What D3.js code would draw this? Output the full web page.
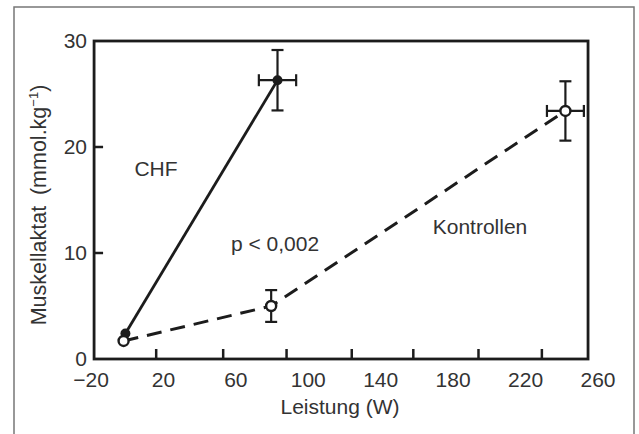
<!DOCTYPE html>
<html>
<head>
<meta charset="utf-8">
<script src="https://cdn.jsdelivr.net/npm/d3@7"></script>
<style>
  body { margin: 0; background: #fff; }
  text { font-family: "Liberation Sans", Arial, sans-serif; fill: #333; }
</style>
</head>
<body>
<div class="chart"></div>
<script>
// values
let xLabels = [-20, 20, 60, 100, 140, 180, 220, 260];
let xTickMarks = [16, 53, 88, 124, 158, 194, 229];   // the marks on the axis don't line up with the labels
let yLabels = [0, 10, 20, 30];
let yTickMarks = [10, 20];

let chf = [
    {x: -1, y: 2.4, ex: 0, ey: 0},
    {x: 83, y: 26.3, ex: 10.3, ey: 2.85}
];
let kontrollen = [
    {x: -2, y: 1.7, ex: 0, ey: 0},
    {x: 79.5, y: 5.0, ex: 0, ey: 1.5},
    {x: 242, y: 23.4, ex: 10.2, ey: 2.8}
];

let width = 639, height = 434;
let svg = d3.select('.chart').append('svg').attr('width', width).attr('height', height);

// outer gray frame
svg.append('rect').attr('x', 14).attr('y', 7).attr('width', 620).attr('height', 440)
    .attr('fill', 'none').attr('stroke', '#777').attr('stroke-width', 1.5);

let x = d3.scaleLinear().domain([-20, 260]).range([91, 598]);
let y = d3.scaleLinear().domain([0, 30]).range([359, 41]);

let ink = '#1c1c1c';
let fs = '21px';

// plot box
svg.append('rect')
    .attr('x', x(-18.3)).attr('y', y(30))
    .attr('width', x(254.5) - x(-18.3)).attr('height', y(0) - y(30))
    .attr('fill', 'none').attr('stroke', ink).attr('stroke-width', 2.8);

// tick marks
svg.selectAll('.xtick').data(xTickMarks).enter().append('line')
    .attr('x1', d => x(d)).attr('x2', d => x(d))
    .attr('y1', y(0)).attr('y2', y(0) - 10)
    .attr('stroke', ink).attr('stroke-width', 2.5);

svg.selectAll('.ytick').data(yTickMarks).enter().append('line')
    .attr('x1', x(-18.3)).attr('x2', x(-18.3) + 9)
    .attr('y1', d => y(d)).attr('y2', d => y(d))
    .attr('stroke', ink).attr('stroke-width', 2.5);

svg.selectAll('.xlab').data(xLabels).enter().append('text')
    .attr('x', d => x(d)).attr('y', 387)
    .attr('text-anchor', 'middle').style('font-size', fs)
    .text(d => d < 0 ? '\u2212' + Math.abs(d) : d);

svg.selectAll('.ylab').data(yLabels).enter().append('text')
    .attr('x', 87).attr('y', d => y(d) + 7)
    .attr('text-anchor', 'end').style('font-size', fs)
    .text(d => d);

// axis titles
svg.append('text').attr('x', 340).attr('y', 414).attr('text-anchor', 'middle')
    .style('font-size', fs).text('Leistung (W)');

let ytitle = svg.append('text').attr('transform', 'translate(46,205) rotate(-90)')
    .attr('text-anchor', 'middle').style('font-size', '21.5px');
ytitle.append('tspan').text('Muskellaktat\u2002(mmol.kg');
ytitle.append('tspan').attr('dy', -8).style('font-size', '13px').text('\u22121');
ytitle.append('tspan').attr('dy', 8).text(')');

// lines
let line = d3.line().x(d => x(d.x)).y(d => y(d.y));

svg.append('path').datum(kontrollen).attr('d', line)
    .attr('fill', 'none').attr('stroke', ink).attr('stroke-width', 3)
    .attr('stroke-dasharray', '15,9');
svg.append('path').datum(chf).attr('d', line)
    .attr('fill', 'none').attr('stroke', ink).attr('stroke-width', 2.8);

// error bars
function errorBars(data) {
    let cap = 6;
    data.forEach(d => {
        if (d.ey > 0) {
            svg.append('line').attr('x1', x(d.x)).attr('x2', x(d.x))
                .attr('y1', y(d.y - d.ey)).attr('y2', y(d.y + d.ey))
                .attr('stroke', ink).attr('stroke-width', 2.2);
            [d.y - d.ey, d.y + d.ey].forEach(v => {
                svg.append('line').attr('x1', x(d.x) - cap).attr('x2', x(d.x) + cap)
                    .attr('y1', y(v)).attr('y2', y(v))
                    .attr('stroke', ink).attr('stroke-width', 2.2);
            });
        }
        if (d.ex > 0) {
            svg.append('line').attr('x1', x(d.x - d.ex)).attr('x2', x(d.x + d.ex))
                .attr('y1', y(d.y)).attr('y2', y(d.y))
                .attr('stroke', ink).attr('stroke-width', 2.2);
            [d.x - d.ex, d.x + d.ex].forEach(v => {
                svg.append('line').attr('x1', x(v)).attr('x2', x(v))
                    .attr('y1', y(d.y) - cap).attr('y2', y(d.y) + cap)
                    .attr('stroke', ink).attr('stroke-width', 2.2);
            });
        }
    });
}
errorBars(chf);
errorBars(kontrollen);

// markers
svg.selectAll('.chf').data(chf).enter().append('circle')
    .attr('cx', d => x(d.x)).attr('cy', d => y(d.y)).attr('r', 5)
    .attr('fill', ink);
svg.selectAll('.kon').data(kontrollen).enter().append('circle')
    .attr('cx', d => x(d.x)).attr('cy', d => y(d.y)).attr('r', 5)
    .attr('fill', '#fff').attr('stroke', ink).attr('stroke-width', 2.4);

// annotations
svg.append('text').attr('x', 156).attr('y', 176).attr('text-anchor', 'middle')
    .style('font-size', fs).text('CHF');
svg.append('text').attr('x', 480).attr('y', 234).attr('text-anchor', 'middle')
    .style('font-size', fs).text('Kontrollen');
svg.append('text').attr('x', 275).attr('y', 251).attr('text-anchor', 'middle')
    .style('font-size', fs).text('p < 0,002');
</script>
</body>
</html>
